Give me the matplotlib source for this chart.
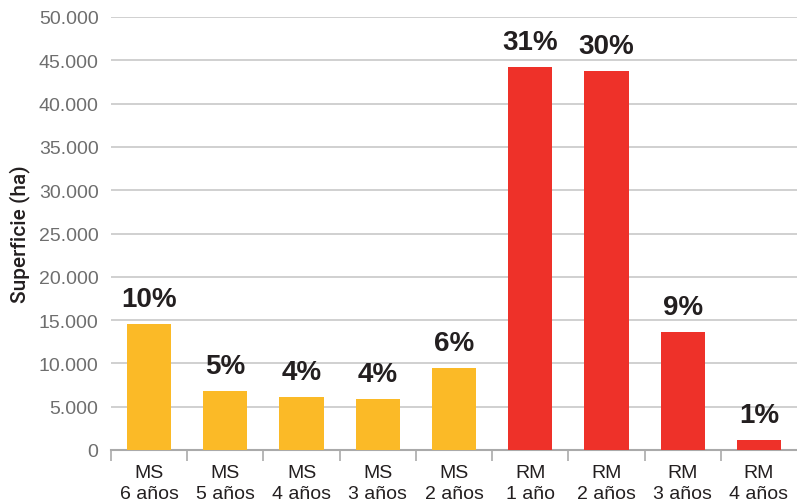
import matplotlib
matplotlib.use("Agg")
import matplotlib.pyplot as plt
from matplotlib.ticker import FuncFormatter, FixedLocator

categories = ["MS\n6 años", "MS\n5 años", "MS\n4 años", "MS\n3 años", "MS\n2 años",
              "RM\n1 año", "RM\n2 años", "RM\n3 años", "RM\n4 años"]
values = [14550, 6800, 6120, 5900, 9470, 44250, 43800, 13650, 1150]
percent_labels = ["10%", "5%", "4%", "4%", "6%", "31%", "30%", "9%", "1%"]
groups = ["MS", "MS", "MS", "MS", "MS", "RM", "RM", "RM", "RM"]

colors = {"MS": "#FBBA27", "RM": "#EE3129"}

plt.rcParams['font.family'] = ['Liberation Sans', 'DejaVu Sans']

fig = plt.figure(figsize=(7.97, 5.02), dpi=100)
ax = fig.add_axes([111/797, 51/502, 686/797, 433/502])

x = list(range(len(categories)))
ax.bar(x, values, width=0.58, color=[colors[g] for g in groups], zorder=3)

for xi, v, lab in zip(x, values, percent_labels):
    ax.text(xi, v + 1400, lab, ha='center', va='bottom', fontsize=20,
            fontweight='bold', color='#231F20')

ax.set_xlim(-0.5, len(categories) - 0.5)
ax.set_ylim(0, 50000)
ax.set_yticks(range(0, 50001, 5000))
ax.yaxis.set_major_formatter(FuncFormatter(lambda v, p: f"{int(v):,}".replace(",", ".")))
ax.grid(axis='y', color='#C8C8C8', linewidth=1.2, zorder=0)
ax.set_axisbelow(True)

for s in ['top', 'right', 'left']:
    ax.spines[s].set_visible(False)
ax.spines['bottom'].set_color('#AAAAAA')
ax.spines['bottom'].set_linewidth(1.5)

ax.tick_params(axis='y', length=0, pad=9, labelsize=14, labelcolor='#6E6E6E')
ax.set_xticks(x)
ax.set_xticklabels(categories, fontsize=14, color='#231F20', linespacing=1.3)
ax.tick_params(axis='x', length=0, pad=10)
ax.xaxis.set_minor_locator(FixedLocator([i - 0.5 for i in range(len(categories))]))
ax.tick_params(axis='x', which='minor', length=8, width=1.2, color='#AAAAAA', direction='out')

ax.set_ylabel("Superficie (ha)", fontsize=15, color='#231F20', labelpad=6,
              family=['Roboto', 'Liberation Sans', 'DejaVu Sans'], fontweight='medium')

fig.savefig("out.png", dpi=100)
